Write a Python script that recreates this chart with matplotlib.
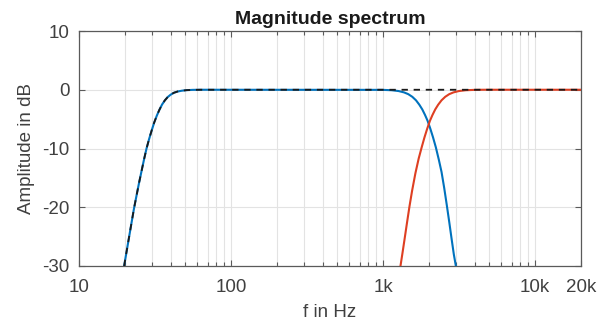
import matplotlib
matplotlib.use("Agg")
import matplotlib.pyplot as plt
from matplotlib.ticker import FixedLocator, NullFormatter

plt.rcParams['font.family'] = ['Liberation Sans', 'DejaVu Sans']
plt.rcParams['axes.unicode_minus'] = False

# Blue: band pass (high-pass near 30 Hz, low-pass near 2 kHz)
blue_f = [19.8, 20.6, 21.4, 22.2, 23.0, 23.9, 24.8, 25.8, 26.8, 27.8, 28.9, 30.0, 31.2,
          32.5, 33.8, 35.2, 36.7, 38.3, 40.0, 42.0, 44.5, 47.5, 51.0, 56.0, 63.0,
          995, 1137, 1263, 1372, 1463, 1555, 1645, 1730, 1809, 1886, 1961, 2041, 2128,
          2221, 2323, 2421, 2520, 2620, 2720, 2820, 2915, 3007]
blue_db = [-30, -27.4, -24.9, -22.5, -20.2, -18.0, -15.9, -13.8, -11.8, -10.0, -8.4, -7.0, -5.6,
           -4.4, -3.4, -2.5, -1.8, -1.25, -0.85, -0.52, -0.3, -0.16, -0.07, -0.02, 0,
           -0.02, -0.08, -0.22, -0.45, -0.75, -1.2, -1.8, -2.55, -3.35, -4.3, -5.3, -6.6, -8.1,
           -9.8, -11.9, -14.0, -16.7, -19.6, -22.5, -25.4, -28.0, -30]

# Red: high-pass near 2 kHz
red_f = [1300, 1340, 1380, 1430, 1489, 1550, 1630, 1713, 1792, 1870, 1950, 2030, 2110,
         2200, 2300, 2420, 2560, 2720, 2900, 3150, 3500, 4000, 4600, 20000]
red_db = [-30, -27.8, -25.6, -22.9, -19.9, -17.2, -14.2, -11.7, -9.8, -8.1, -6.6, -5.3, -4.3,
          -3.35, -2.55, -1.8, -1.2, -0.75, -0.45, -0.22, -0.08, -0.02, 0, 0]

# Black dashed: sum of both branches
sum_f = [19.8, 20.6, 21.4, 22.2, 23.0, 23.9, 24.8, 25.8, 26.8, 27.8, 28.9, 30.0, 31.2,
         32.5, 33.8, 35.2, 36.7, 38.3, 40.0, 42.0, 44.5, 47.5, 51.0, 56.0, 63.0, 20000]
sum_db = [-30, -27.4, -24.9, -22.5, -20.2, -18.0, -15.9, -13.8, -11.8, -10.0, -8.4, -7.0, -5.6,
          -4.4, -3.4, -2.5, -1.8, -1.25, -0.85, -0.52, -0.3, -0.16, -0.07, -0.02, 0, 0]

xticks = [10, 100, 1000, 10000, 20000]
xticklabels = ['10', '100', '1k', '10k', '20k']
yticks = [-30, -20, -10, 0, 10]

fig = plt.figure(figsize=(6.08, 3.27), dpi=100)
ax = fig.add_axes([79/608, 1-266/327, (581-79)/608, (266-31)/327])

ax.plot(blue_f, blue_db, color='#0072BD', lw=1.5, zorder=3)
ax.plot(red_f, red_db, color='#DE3F22', lw=1.5, zorder=3)
ax.plot(sum_f, sum_db, color='#1a1a1a', lw=1.3, dashes=(3.5, 3.2), zorder=4)

ax.set_xscale('log')
ax.set_xlim(10, 20000)
ax.set_ylim(-30, 10)

minor = [m * d for d in [10, 100, 1000] for m in range(2, 10)] + [20000]
ax.xaxis.set_major_locator(FixedLocator(xticks))
ax.set_xticklabels(xticklabels)
ax.xaxis.set_minor_locator(FixedLocator(minor))
ax.xaxis.set_minor_formatter(NullFormatter())
ax.set_yticks(yticks)

gridc = '#e3e3e3'
ax.grid(True, which='major', color=gridc, lw=0.8)
ax.grid(True, which='minor', axis='x', color=gridc, lw=0.8)
ax.set_axisbelow(True)

axc = '#5a5a5a'
for s in ax.spines.values():
    s.set_color(axc)
    s.set_linewidth(0.9)
ax.tick_params(which='both', direction='in', top=True, right=True, color=axc,
               labelcolor='#404040', labelsize=13.5)
ax.tick_params(which='major', length=4, width=0.8)
ax.tick_params(which='minor', length=3, width=0.8)
ax.tick_params(axis='x', which='major', pad=9)
ax.tick_params(axis='y', which='major', pad=7)

ax.set_xlabel('f in Hz', fontsize=13.5, color='#404040', labelpad=6)
ax.set_ylabel('Amplitude in dB', fontsize=13.5, color='#404040', labelpad=5)
ax.set_title('Magnitude spectrum', fontsize=14, fontweight='bold', color='#1a1a1a', pad=5)

fig.savefig('out.png', dpi=100)
